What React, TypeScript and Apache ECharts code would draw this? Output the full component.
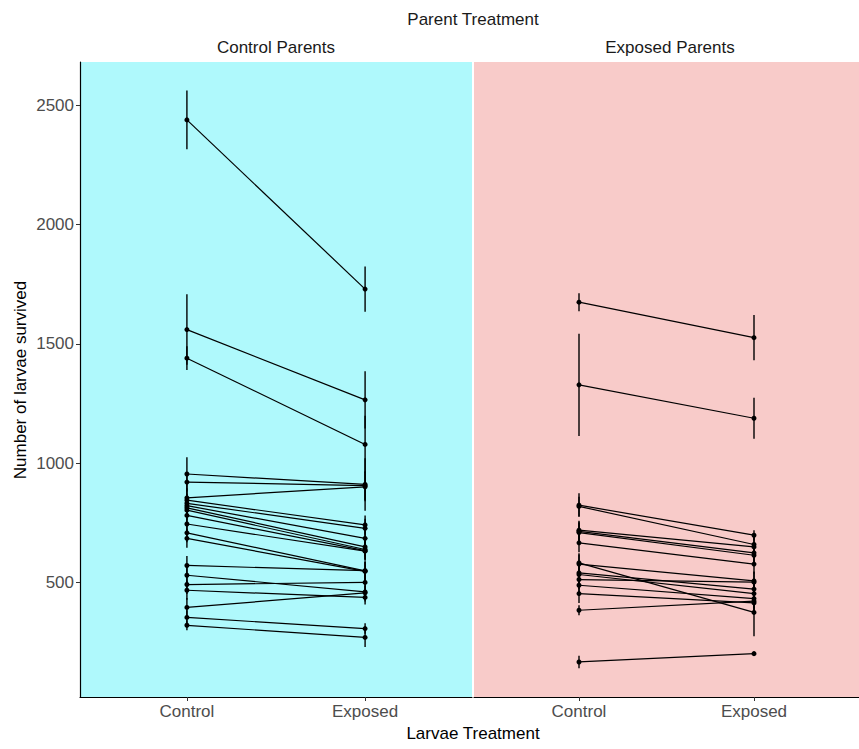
import React, { useEffect, useRef } from "react";
import * as echarts from "echarts";

// ---- data ----
const larvaeCategories = ["Control", "Exposed"];
const parentPanels = ["Control Parents", "Exposed Parents"];
const yTicks = [500, 1000, 1500, 2000, 2500];

// Control Parents panel: mean number survived per family, larvae Control vs Exposed
const leftControl = [2440, 1560, 1440, 954, 920, 854, 844, 831, 821, 812, 802, 780, 744, 707, 684, 570, 529, 490, 466, 394, 352, 319];
const leftExposed = [1730, 1265, 1078, 910, 905, 900, 740, 726, 684, 648, 637, 632, 630, 547, 545, 548, 459, 499, 436, 455, 305, 268];
const leftControlErr = [123, 148, 50, 70, 40, 40, 40, 40, 40, 40, 40, 40, 40, 40, 40, 40, 40, 40, 40, 40, 30, 21];
const leftExposedErr = [95, 120, 120, 110, 60, 60, 40, 40, 40, 40, 40, 40, 40, 40, 40, 40, 40, 40, 30, 30, 22, 40];

// Exposed Parents panel
const rightControl = [1675, 1328, 823, 818, 718, 713, 708, 665, 581, 576, 539, 532, 511, 487, 452, 382, 165];
const rightExposed = [1526, 1188, 697, 658, 648, 623, 613, 576, 373, 505, 471, 452, 500, 431, 413, 420, 200];
const rightControlErr = [38, 215, 50, 40, 40, 40, 40, 40, 40, 40, 40, 40, 40, 40, 40, 21, 26];
const rightExposedErr = [95, 86, 21, 40, 40, 40, 40, 40, 100, 40, 40, 40, 40, 40, 40, 40, 8];

const FONT = "'Liberation Sans', Arial, sans-serif";
const FS = 17;

function buildPanel(panel: number, ctrl: number[], exp: number[], ctrlErr: number[], expErr: number[]) {
  const series: any[] = [];
  const bars: number[][] = [];
  ctrl.forEach((c, i) => {
    bars.push([1, c - ctrlErr[i], c + ctrlErr[i]]);
    bars.push([2, exp[i] - expErr[i], exp[i] + expErr[i]]);
  });
  series.push({
    type: "custom",
    xAxisIndex: panel,
    yAxisIndex: panel,
    silent: true,
    data: bars,
    encode: { x: 0, y: [1, 2] },
    renderItem: (params: any, api: any) => {
      const p1 = api.coord([api.value(0), api.value(1)]);
      const p2 = api.coord([api.value(0), api.value(2)]);
      return {
        type: "line",
        shape: { x1: p1[0], y1: p1[1], x2: p2[0], y2: p2[1] },
        style: { stroke: "#000", lineWidth: 1.4 },
      };
    },
  });
  ctrl.forEach((c, i) => {
    series.push({
      type: "line",
      xAxisIndex: panel,
      yAxisIndex: panel,
      silent: true,
      data: [
        [1, c],
        [2, exp[i]],
      ],
      symbol: "circle",
      symbolSize: 5,
      lineStyle: { color: "#000", width: 1.2 },
      itemStyle: { color: "#000" },
      z: 3,
    });
  });
  return series;
}

function xAxisFor(panel: number) {
  return {
    gridIndex: panel,
    type: "value",
    min: 0.4,
    max: 2.6,
    axisLine: { show: true, onZero: false, lineStyle: { color: "#000", width: 1.2 } },
    axisTick: { show: true, customValues: [1, 2], length: 4, lineStyle: { color: "#333" } },
    axisLabel: {
      customValues: [1, 2],
      formatter: (v: number) => larvaeCategories[Math.round(v) - 1],
      color: "#4d4d4d",
      fontSize: FS,
      fontFamily: FONT,
      margin: 6,
    },
    splitLine: { show: false },
  };
}

export default function App() {
  const ref = useRef<HTMLDivElement>(null);
  useEffect(() => {
    const chart = echarts.init(ref.current!, null, { renderer: "svg" });
    const textStyle = (text: string, fill: string) => ({
      text,
      fill,
      font: `${FS}px ${FONT}`,
      textAlign: "center",
      textVerticalAlign: "middle",
      align: "center",
      verticalAlign: "middle",
    });
    const option: any = {
      animation: false,
      backgroundColor: "#fff",
      textStyle: { fontFamily: FONT },
      grid: [
        { left: 80, top: 62, width: 392, height: 635, show: true, backgroundColor: "#aff9fc", borderWidth: 0 },
        { left: 474, top: 62, width: 392, height: 635, show: true, backgroundColor: "#f8cbc9", borderWidth: 0 },
      ],
      xAxis: [xAxisFor(0), xAxisFor(1)],
      yAxis: [
        {
          gridIndex: 0,
          type: "value",
          min: 18,
          max: 2683,
          axisLine: { show: true, lineStyle: { color: "#000", width: 1.2 } },
          axisTick: { show: true, customValues: yTicks, length: 4, lineStyle: { color: "#333" } },
          axisLabel: {
            customValues: yTicks,
            formatter: (v: number) => String(v),
            color: "#4d4d4d",
            fontSize: FS,
            fontFamily: FONT,
            margin: 6,
          },
          splitLine: { show: false },
        },
        {
          gridIndex: 1,
          type: "value",
          min: 18,
          max: 2683,
          axisLine: { show: false },
          axisTick: { show: false },
          axisLabel: { show: false },
          splitLine: { show: false },
        },
      ],
      graphic: [
        { type: "text", x: 473, y: 19, style: textStyle("Parent Treatment", "#1a1a1a") },
        { type: "text", x: 276, y: 47, style: textStyle(parentPanels[0], "#1a1a1a") },
        { type: "text", x: 670, y: 47, style: textStyle(parentPanels[1], "#1a1a1a") },
        { type: "text", x: 20, y: 380, rotation: Math.PI / 2, style: textStyle("Number of larvae survived", "#000") },
        { type: "text", x: 473, y: 733, style: textStyle("Larvae Treatment", "#000") },
      ],
      series: [
        ...buildPanel(0, leftControl, leftExposed, leftControlErr, leftExposedErr),
        ...buildPanel(1, rightControl, rightExposed, rightControlErr, rightExposedErr),
      ],
    };
    chart.setOption(option);
    return () => chart.dispose();
  }, []);
  return (
    <div
      ref={ref}
      style={{ position: "fixed", left: 0, top: 0, width: 859, height: 749, background: "#fff" }}
    />
  );
}
